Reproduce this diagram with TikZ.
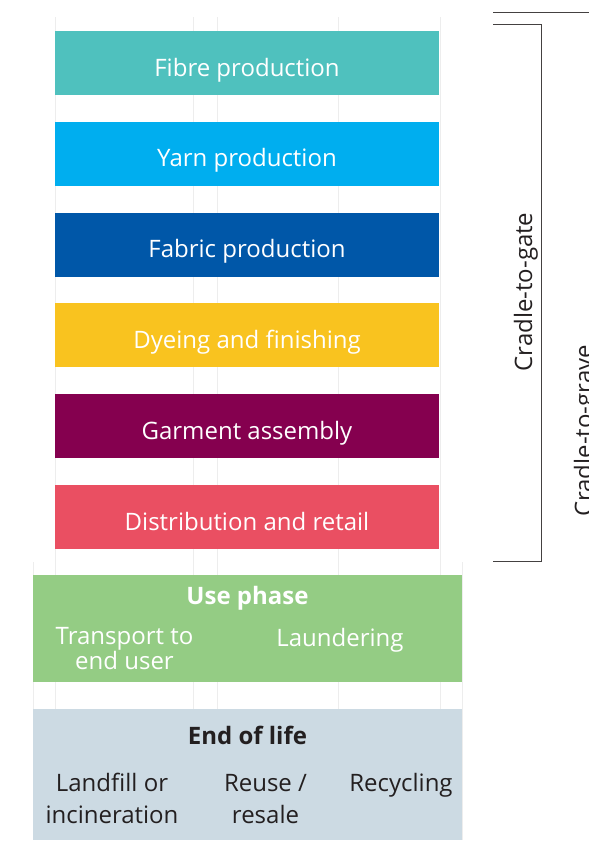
\documentclass[tikz,border=0pt]{standalone}
\usepackage{fontspec}
\setmainfont{Open Sans}
\usetikzlibrary{positioning}

\definecolor{fibrecol}{HTML}{4FC1BE}
\definecolor{yarncol}{HTML}{00AEEF}
\definecolor{fabriccol}{HTML}{0057A8}
\definecolor{dyecol}{HTML}{F9C31F}
\definecolor{garmentcol}{HTML}{85004F}
\definecolor{retailcol}{HTML}{EA4F62}
\definecolor{usecol}{HTML}{94CC84}
\definecolor{eolcol}{HTML}{CCDAE3}
\definecolor{inkcol}{HTML}{231F20}

\begin{document}
\begin{tikzpicture}[x=1pt,y=-1pt,node distance=90.8pt,on grid,
  stage/.style={minimum width=384pt,minimum height=64pt,inner sep=0pt,
    text height=45pt,text depth=19pt,text=white,font=\fontsize{24}{28}\selectfont},
  phasebox/.style={minimum width=429pt,inner sep=0pt},
  txt/.style={font=\fontsize{24}{23}\selectfont,align=center,inner sep=0pt,anchor=base},
  headtxt/.style={txt,font=\bfseries\fontsize{24}{23}\selectfont},
  gridline/.style={black!7,line width=0.6pt},
  bracket/.style={draw=inkcol!85,line width=1pt}]
\useasboundingbox (0,0) rectangle (589,844);
\clip (0,0) rectangle (589,844);

% faint column guides behind the boxes
\foreach \gx in {55,193,217,338,440}
  \draw[gridline] (\gx,17) -- (\gx,562);
\foreach \gx in {33,55,193,217,338,440,462}
  \draw[gridline] (\gx,562) -- (\gx,840);

% production stages
\node[stage,fill=fibrecol] (fibre) at (247,63) {Fibre production};
\node[stage,fill=yarncol] (yarn) [below=of fibre] {Yarn production};
\node[stage,fill=fabriccol] (fabric) [below=of yarn] {Fabric production};
\node[stage,fill=dyecol] (dyeing) [below=of fabric] {Dyeing and finishing};
\node[stage,fill=garmentcol] (garment) [below=of dyeing] {Garment assembly};
\node[stage,fill=retailcol] (retail) [below=of garment] {Distribution and retail};

% use phase (two-line labels sit on their last baseline)
\node[phasebox,minimum height=107pt,fill=usecol] (use) at (247.5,628.5) {};
\node[headtxt,text=white] (usetitle) at (247.5,604) {Use phase};
\node[txt,text=white] (transport) at (124.5,669) {Transport to\\end user};
\node[txt,text=white] (laundering) at (340,646) {Laundering};

% end of life
\node[phasebox,minimum height=131pt,fill=eolcol] (eol) at (247.5,774.5) {};
\node[headtxt,text=inkcol] (eoltitle) at (247.5,744) {End of life};
\node[txt,text=inkcol,font=\fontsize{24}{32}\selectfont] (landfill) at (112,823) {Landfill or\\incineration};
\node[txt,text=inkcol,font=\fontsize{24}{32}\selectfont] (reuse) at (265.5,823) {Reuse /\\resale};
\node[txt,text=inkcol] (recycling) at (401,791) {Recycling};

% system boundaries
\coordinate (gatetop) at (493,24);
\coordinate (gatebot) at (493,561);
\coordinate (gravetop) at (493,12);
\coordinate (gravebot) at (600,850);
\draw[bracket] (gatetop) -| (541,561) -- (gatebot);
\draw[bracket] (gravetop) -| (gravebot);
\node[txt,rotate=90,text=inkcol] (gatelabel) at (532,292) {Cradle-to-gate};
\node[txt,rotate=90,text=inkcol] (gravelabel) at (592,431) {Cradle-to-grave};
\end{tikzpicture}
\end{document}
